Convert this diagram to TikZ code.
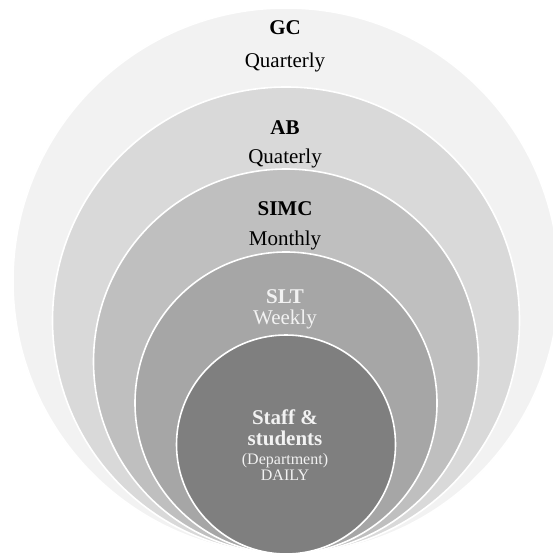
\documentclass[tikz,border=0pt]{standalone}
\usepackage{fontspec}
\setmainfont{Liberation Serif}
\usetikzlibrary{positioning}
\definecolor{gcgray}{HTML}{F2F2F2}
\definecolor{abgray}{HTML}{D9D9D9}
\definecolor{simcgray}{HTML}{BFBFBF}
\definecolor{sltgray}{HTML}{A6A6A6}
\definecolor{staffgray}{HTML}{7F7F7F}

\begin{document}
\begin{tikzpicture}[x=0.5pt, y=-0.5pt,
  ring/.style={circle, draw=white, line width=0.8pt, inner sep=0pt},
  head/.style={anchor=base, inner sep=0pt, font=\bfseries\fontsize{10.5}{12}\selectfont},
  freq/.style={anchor=base, inner sep=0pt, font=\fontsize{10.5}{12}\selectfont},
  note/.style={anchor=base, inner sep=0pt, font=\fontsize{8}{9}\selectfont}]
  \useasboundingbox (0,0) rectangle (552,555);
  % nested rings, all touching at the bottom
  \node[ring, fill=gcgray, minimum size=273pt] (gc) at (286,281) {};
  \node[ring, fill=abgray, minimum size=233.5pt] (ab) at (286,320.5) {};
  \node[ring, fill=simcgray, minimum size=192.5pt] (simc) at (286,361.5) {};
  \node[ring, fill=sltgray, minimum size=151pt] (slt) at (286,403) {};
  \node[ring, fill=staffgray, minimum size=109.5pt] (staff) at (286,444.5) {};
  % labels
  \node[head] (gct) at (285,35) {GC};
  \node[freq] (gcf) at (285,67.5) {Quarterly};
  \node[head] (abt) at (285,135) {AB};
  \node[freq] (abf) at (285,164) {Quaterly};
  \node[head] (simct) at (285,215.5) {SIMC};
  \node[freq] (simcf) at (285,245.5) {Monthly};
  \node[head, text=gcgray] (sltt) at (285,303) {SLT};
  \node[freq, text=gcgray] (sltf) at (285,324) {Weekly};
  \node[head, text=gcgray] (stafft) at (285,424) {Staff \&};
  \node[head, text=gcgray] (staffs) at (285,445) {students};
  \node[note, text=gcgray] (staffd) at (285,464) {(Department)};
  \node[note, text=gcgray] (staffp) at (285,480) {DAILY};
\end{tikzpicture}
\end{document}
